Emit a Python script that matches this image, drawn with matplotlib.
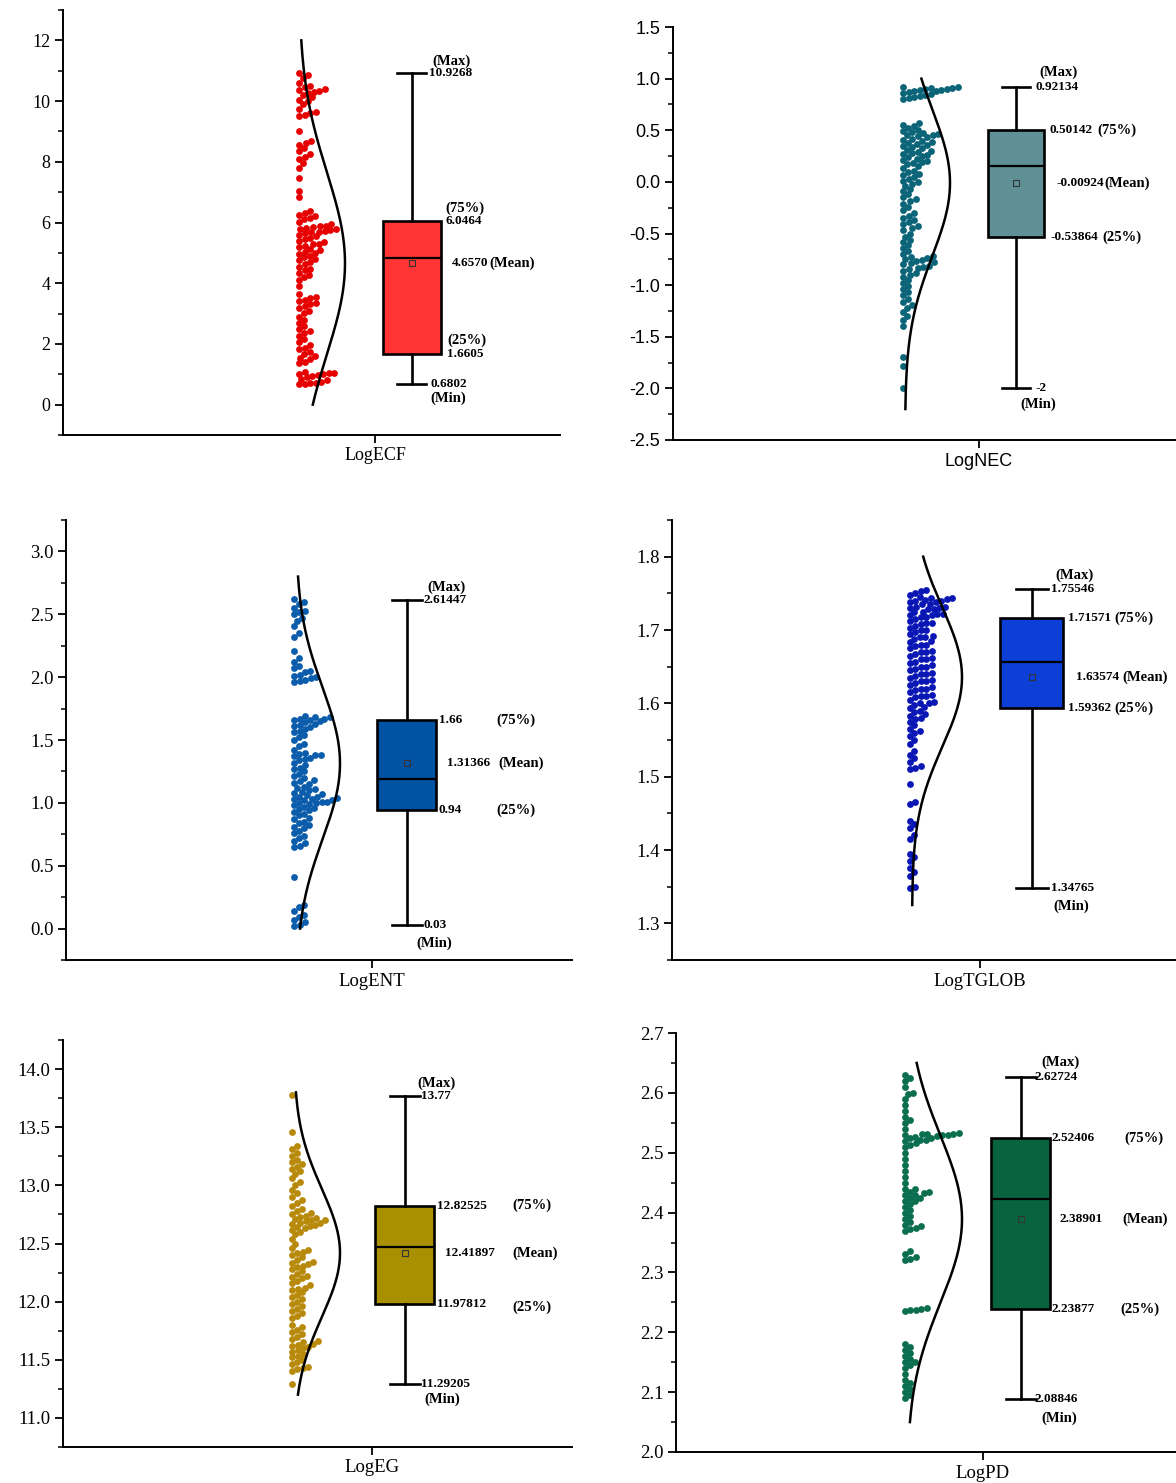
import numpy as np
import matplotlib.pyplot as plt
from matplotlib.ticker import FixedLocator, FormatStrFormatter

plt.rcParams['axes.unicode_minus'] = False

FIG_W, FIG_H = 1176, 1483
SERIF = 'Liberation Serif'
SANS = 'Liberation Sans'

names = ['LogECF', 'LogNEC', 'LogENT', 'LogTGLOB', 'LogEG', 'LogPD']

ecf_vals = [10.93, 10.85, 10.75, 10.6, 10.5, 10.45, 10.4, 10.38, 10.33, 10.3, 10.27, 10.2,
            10.12, 10.05, 10.0, 9.9, 9.75, 9.65, 9.6, 9.55, 9.5, 9.0,
            8.7, 8.62, 8.55, 8.45, 8.35, 8.25, 8.15, 8.1, 7.95, 7.8, 7.45, 7.05, 6.85,
            6.38, 6.3, 6.25, 6.2, 6.15, 6.1, 6.02,
            5.95, 5.9, 5.88, 5.85, 5.83, 5.8, 5.78, 5.75, 5.72, 5.7, 5.68, 5.65, 5.6, 5.55, 5.5,
            5.45, 5.4, 5.35, 5.3, 5.28, 5.22, 5.18, 5.12, 5.08, 5.03, 5.0, 4.95, 4.9, 4.85, 4.8,
            4.75, 4.7, 4.62, 4.55, 4.48, 4.42, 4.35, 4.28, 4.2, 4.1, 3.9,
            3.65, 3.55, 3.5, 3.45, 3.4, 3.35, 3.3, 3.25, 3.18, 3.1, 3.02,
            2.9, 2.8, 2.7, 2.6, 2.5, 2.42, 2.35, 2.25, 2.15, 2.05, 1.98,
            1.88, 1.82, 1.75, 1.68, 1.6, 1.55, 1.5, 1.42, 1.37,
            1.08, 1.05, 1.03, 1.02, 1.0, 0.98, 0.95, 0.9, 0.85, 0.8, 0.75, 0.72, 0.7, 0.69, 0.68]

nec_vals = [0.92, 0.92, 0.91, 0.91, 0.90, 0.90, 0.89, 0.89, 0.88, 0.88, 0.87, 0.86, 0.85, 0.84,
            0.83, 0.82, 0.81, 0.80,
            0.57, 0.55, 0.54, 0.52, 0.50, 0.49, 0.48, 0.47, 0.46, 0.45, 0.45, 0.44, 0.43, 0.42,
            0.41, 0.40, 0.39, 0.38, 0.37, 0.36, 0.35, 0.34, 0.33, 0.31, 0.30, 0.29, 0.28, 0.27,
            0.26, 0.25, 0.24, 0.22, 0.21, 0.20, 0.19, 0.18, 0.17, 0.15, 0.13, 0.11, 0.10, 0.08,
            0.07, 0.05, 0.03, 0.01, 0.00, -0.02, -0.04, -0.07, -0.09, -0.12, -0.15, -0.17, -0.19,
            -0.21, -0.24, -0.27, -0.30, -0.33, -0.35, -0.37, -0.39, -0.41, -0.43, -0.45, -0.47,
            -0.50, -0.53, -0.56, -0.58, -0.61, -0.64, -0.67, -0.70, -0.72, -0.73, -0.74, -0.75,
            -0.76, -0.77, -0.78, -0.79, -0.80, -0.81, -0.82, -0.83, -0.84, -0.86, -0.88, -0.90,
            -0.92, -0.95, -0.98, -1.01, -1.04, -1.07, -1.10, -1.13, -1.16, -1.19, -1.22, -1.26,
            -1.30, -1.34, -1.40, -1.70, -1.78, -2.00]

ent_vals = [0.02, 0.03, 0.05, 0.07, 0.09, 0.11, 0.14, 0.17, 0.19, 0.41,
            0.65, 0.66, 0.68, 0.70, 0.72, 0.74, 0.76, 0.78, 0.80, 0.81, 0.82, 0.84, 0.85, 0.87,
            0.88, 0.90, 0.91, 0.93, 0.94, 0.95, 0.96, 0.97, 0.98, 0.99, 1.00, 1.00, 1.01, 1.01,
            1.02, 1.02, 1.03, 1.03, 1.04, 1.05, 1.05, 1.06, 1.07, 1.08, 1.09, 1.10, 1.11, 1.12,
            1.13, 1.15, 1.16, 1.17, 1.18, 1.20, 1.21, 1.23, 1.25, 1.27, 1.28, 1.30, 1.32, 1.34,
            1.35, 1.36, 1.37, 1.38, 1.38, 1.39, 1.40, 1.42, 1.45, 1.47, 1.50, 1.52, 1.54, 1.56,
            1.57, 1.59, 1.60, 1.61, 1.62, 1.63, 1.64, 1.65, 1.66, 1.66, 1.67, 1.67, 1.68, 1.68, 1.69,
            1.96, 1.97, 1.98, 1.99, 2.00, 2.01, 2.02, 2.04, 2.05, 2.07, 2.09, 2.12, 2.15, 2.21,
            2.32, 2.35, 2.41, 2.45, 2.47, 2.50, 2.52, 2.53, 2.55, 2.58, 2.60, 2.62]

tglob_vals = [1.348, 1.350, 1.365, 1.370, 1.375, 1.385, 1.390, 1.395, 1.415, 1.420, 1.430, 1.435,
              1.440, 1.463, 1.465, 1.490, 1.510, 1.512, 1.515, 1.520, 1.525, 1.530, 1.535, 1.545,
              1.550, 1.555, 1.560, 1.562, 1.565, 1.570, 1.575, 1.578, 1.580, 1.583, 1.585, 1.588,
              1.590, 1.593, 1.595, 1.598, 1.600, 1.600, 1.602, 1.605, 1.608, 1.610, 1.610, 1.612,
              1.615, 1.618, 1.620, 1.620, 1.622, 1.625, 1.628, 1.630, 1.630, 1.632, 1.635, 1.637,
              1.640, 1.640, 1.642, 1.645, 1.647, 1.650, 1.650, 1.652, 1.655, 1.657, 1.660, 1.660,
              1.662, 1.665, 1.667, 1.670, 1.670, 1.672, 1.675, 1.678, 1.680, 1.680, 1.683, 1.685,
              1.688, 1.690, 1.690, 1.692, 1.695, 1.697, 1.700, 1.700, 1.703, 1.705, 1.708, 1.710,
              1.710, 1.712, 1.715, 1.718, 1.720, 1.720, 1.722, 1.725, 1.728, 1.730, 1.730, 1.732,
              1.735, 1.738, 1.740, 1.740, 1.742, 1.745, 1.748, 1.750, 1.753, 1.755,
              1.718, 1.722, 1.725, 1.728, 1.732, 1.735, 1.738, 1.741, 1.744, 1.743]

eg_vals = [11.29, 11.40, 11.42, 11.43, 11.44, 11.46, 11.48, 11.50, 11.52, 11.53, 11.55, 11.57,
           11.58, 11.60, 11.61, 11.62, 11.63, 11.64, 11.65, 11.66, 11.68, 11.70, 11.72, 11.74,
           11.76, 11.78, 11.80, 11.86, 11.88, 11.90, 11.92, 11.94, 11.96, 11.98, 12.00, 12.02,
           12.04, 12.06, 12.08, 12.10, 12.11, 12.12, 12.14, 12.16, 12.18, 12.20, 12.21, 12.22,
           12.24, 12.26, 12.28, 12.30, 12.31, 12.32, 12.33, 12.34, 12.36, 12.38, 12.40, 12.42,
           12.43, 12.44, 12.46, 12.50, 12.54, 12.58, 12.60, 12.62, 12.63, 12.64, 12.65, 12.66,
           12.67, 12.68, 12.68, 12.69, 12.70, 12.70, 12.71, 12.72, 12.73, 12.74, 12.75, 12.76,
           12.78, 12.80, 12.82, 12.85, 12.87, 12.90, 12.93, 12.96, 13.00, 13.03, 13.06, 13.10,
           13.12, 13.14, 13.16, 13.18, 13.20, 13.22, 13.25, 13.28, 13.31, 13.34, 13.46, 13.78]

pd_vals = [2.090, 2.095, 2.100, 2.105, 2.110, 2.115, 2.120, 2.130, 2.140, 2.145, 2.150,
           2.150, 2.155, 2.160, 2.165, 2.170, 2.175, 2.180,
           2.236, 2.237, 2.238, 2.239, 2.240,
           2.320, 2.322, 2.325, 2.330, 2.335,
           2.370, 2.372, 2.375, 2.378, 2.380, 2.385, 2.390, 2.395, 2.400, 2.405, 2.410, 2.415,
           2.420, 2.425, 2.430, 2.435, 2.440,
           2.420, 2.425, 2.430, 2.432, 2.435, 2.440, 2.450, 2.460, 2.470, 2.480, 2.490, 2.500, 2.510,
           2.513, 2.516, 2.520, 2.522, 2.525, 2.527, 2.530, 2.531, 2.532, 2.533, 2.532, 2.530,
           2.528, 2.525, 2.522,
           2.530, 2.540, 2.550, 2.555, 2.560, 2.570, 2.580, 2.590, 2.598, 2.600, 2.610, 2.620,
           2.625, 2.630]

ecf_stats = ['10.9268', '6.0464', '4.6570', '1.6605', '0.6802']
nec_stats = ['0.92134', '0.50142', '-0.00924', '-0.53864', '-2']
ent_stats = ['2.61447', '1.66', '1.31366', '0.94', '0.03']
tglob_stats = ['1.75546', '1.71571', '1.63574', '1.59362', '1.34765']
eg_stats = ['13.77', '12.82525', '12.41897', '11.97812', '11.29205']
pd_stats = ['2.62724', '2.52406', '2.38901', '2.23877', '2.08846']
medians = [4.84, 0.156, 1.19, 1.656, 12.47, 2.423]

# normal curve: mean, sd, drawn from, drawn to
curves = [(4.657, 3.0, 0.0, 12.0), (-0.00924, 0.71, -2.2, 1.0), (1.31366, 0.6, 0.0, 2.8),
          (1.63574, 0.095, 1.325, 1.8), (12.41897, 0.55, 11.2, 13.8), (2.38901, 0.14, 2.05, 2.65)]

values = [ecf_vals, nec_vals, ent_vals, tglob_vals, eg_vals, pd_vals]
stats = [ecf_stats, nec_stats, ent_stats, tglob_stats, eg_stats, pd_stats]

dot_colors = ['#E60000', '#0B6478', '#0B5CAB', '#0A17B4', '#B88A0C', '#0B6E4F']
box_colors = ['#FF3535', '#5E9096', '#0052A3', '#0B3FD6', '#A89000', '#08643F']

# axes rectangles in pixels: left, top, right, bottom
rects = [(63, 10, 560, 435), (673, 27, 1180, 440), (66, 520, 572, 960),
         (672, 520, 1180, 960), (63, 1040, 572, 1447), (676, 1033, 1180, 1452)]
ylims = [(-1, 13), (-2.5, 1.5), (-0.25, 3.25), (1.25, 1.85), (10.75, 14.25), (2.0, 2.7)]
major = [2, 0.5, 0.5, 0.1, 0.5, 0.1]
fmts = ['%d', '%.1f', '%.1f', '%.1f', '%.1f', '%.1f']
fams = [SERIF, SANS, SERIF, SERIF, SERIF, SERIF]
tick_size = [13, 13, 13.5, 13.5, 13.5, 13.5]
# horizontal layout inside each axes (pixels from left spine)
tick_x = [312, 306, 306, 308, 309, 307]
dots_x0 = [236, 230, 228, 238, 229, 229]
curve_base = [236, 232, 230, 240, 231, 231]
curve_amp = [46, 45, 44, 50, 46, 55]
box_x = [348.5, 343, 341, 360, 342, 345]
box_w = [58, 56, 59, 63, 59, 59]

# annotation layout: x offset of each value text (max, q3, mean, q1, min)
val_dx = [[17, 34, 40, 36, 19], [19, 33, 40, 34, 19], [17, 32, 40, 32, 17],
          [19, 36, 44, 36, 19], [16, 32, 40, 32, 16], [14, 31, 39, 31, 14]]
# bracket labels: ('at', dx, dy) relative to the stat point or ('after', gap)
tags = ['(Max)', '(75%)', '(Mean)', '(25%)', '(Min)']
tag_pos = [
    [('at', 21, 12), ('at', 34, 13), ('after', 1), ('at', 36, 14), ('at', 19, -14)],
    [('at', 23, 14), ('after', 5), ('after', 1), ('after', 5), ('at', 4, -16)],
    [('at', 20, 13), ('at', 89, 0), ('at', 91, 0), ('at', 89, 0), ('at', 9, -18)],
    [('at', 23, 14), ('after', 3), ('after', 3), ('after', 3), ('at', 21, -18)],
    [('at', 12, 13), ('at', 107, 0), ('at', 107, 0), ('at', 107, -3), ('at', 19, -15)],
    [('at', 20, 14), ('at', 103, 0), ('at', 101, 0), ('at', 99, 0), ('at', 20, -19)],
]


def half_swarm(vals, ppu, d=5.5):
    # one-sided swarm: each dot goes to the first free spot right of the strip edge
    ys = np.sort(np.asarray(vals, dtype=float)) * ppu
    px, py = [], []
    for y in ys:
        off = 0.0
        while any(abs(b - y) < d and (a - off) ** 2 + (b - y) ** 2 < d * d
                  for a, b in zip(px, py)):
            off += 0.5
        px.append(off)
        py.append(y)
    return np.array(px), ys / ppu


fig = plt.figure(figsize=(FIG_W / 100, FIG_H / 100), dpi=100)

for i in range(6):
    l, t, r, b = rects[i]
    ax = fig.add_axes([l / FIG_W, 1 - b / FIG_H, (r - l) / FIG_W, (b - t) / FIG_H])
    y0, y1 = ylims[i]
    ppu = (b - t) / (y1 - y0)
    ax.set_xlim(0, r - l)
    ax.set_ylim(y0, y1)

    # scatter strip
    off, ys = half_swarm(values[i], ppu)
    ax.scatter(dots_x0[i] + off, ys, s=24, color=dot_colors[i], linewidths=0, zorder=2)

    # normal curve
    m, sd, c0, c1 = curves[i]
    yy = np.linspace(c0, c1, 300)
    ax.plot(curve_base[i] + curve_amp[i] * np.exp(-(yy - m) ** 2 / (2 * sd ** 2)), yy,
            color='black', lw=1.8, zorder=3)

    # box
    st = [float(s) for s in stats[i]]
    bs = dict(whishi=st[0], q3=st[1], mean=st[2], q1=st[3], whislo=st[4],
              med=medians[i], fliers=[])
    ax.bxp([bs], positions=[box_x[i]], widths=box_w[i], capwidths=box_w[i] * 0.5,
           patch_artist=True, showmeans=True, showfliers=False, manage_ticks=False,
           boxprops=dict(facecolor=box_colors[i], edgecolor='black', linewidth=1.9),
           whiskerprops=dict(color='black', linewidth=1.9),
           capprops=dict(color='black', linewidth=1.9),
           medianprops=dict(color='black', linewidth=1.6),
           meanprops=dict(marker='s', markersize=4, markerfacecolor='none',
                          markeredgecolor='#333333', markeredgewidth=0.8))

    # stat annotations
    for k in range(5):
        vt = ax.annotate(stats[i][k], xy=(box_x[i], st[k]), xytext=(val_dx[i][k], 0),
                         textcoords='offset pixels', ha='left', va='center',
                         fontsize=9.5, fontweight='bold', family=SERIF)
        p = tag_pos[i][k]
        if p[0] == 'after':
            ax.annotate(tags[k], xy=(1, 0.5), xycoords=vt, xytext=(p[1], 0),
                        textcoords='offset pixels', ha='left', va='center',
                        fontsize=10.5, fontweight='bold', family=SERIF)
        else:
            ax.annotate(tags[k], xy=(box_x[i], st[k]), xytext=(p[1], p[2]),
                        textcoords='offset pixels', ha='left', va='center',
                        fontsize=10.5, fontweight='bold', family=SERIF)

    # axes styling
    for s in ['top', 'right']:
        ax.spines[s].set_visible(False)
    for s in ['left', 'bottom']:
        ax.spines[s].set_linewidth(1.4)
    step = major[i]
    first = np.ceil(y0 / step - 1e-9) * step
    ax.yaxis.set_major_locator(FixedLocator(np.round(np.arange(first, y1 + 1e-9, step), 6) + 0.0))
    mfirst = np.ceil(y0 / (step / 2) - 1e-9) * (step / 2)
    ax.yaxis.set_minor_locator(FixedLocator(np.arange(mfirst, y1 + 1e-9, step / 2)))
    ax.yaxis.set_major_formatter(FormatStrFormatter(fmts[i]))
    ax.set_xticks([tick_x[i]])
    ax.set_xticklabels([names[i]])
    ax.tick_params(axis='both', which='major', direction='out', length=6, width=1.3,
                   labelsize=tick_size[i], pad=3)
    ax.tick_params(axis='y', which='minor', direction='out', length=3.5, width=1.1)
    for lab in ax.get_yticklabels() + ax.get_xticklabels():
        lab.set_family(fams[i])
    ax.patch.set_alpha(0)

fig.savefig('out.png', dpi=100)
